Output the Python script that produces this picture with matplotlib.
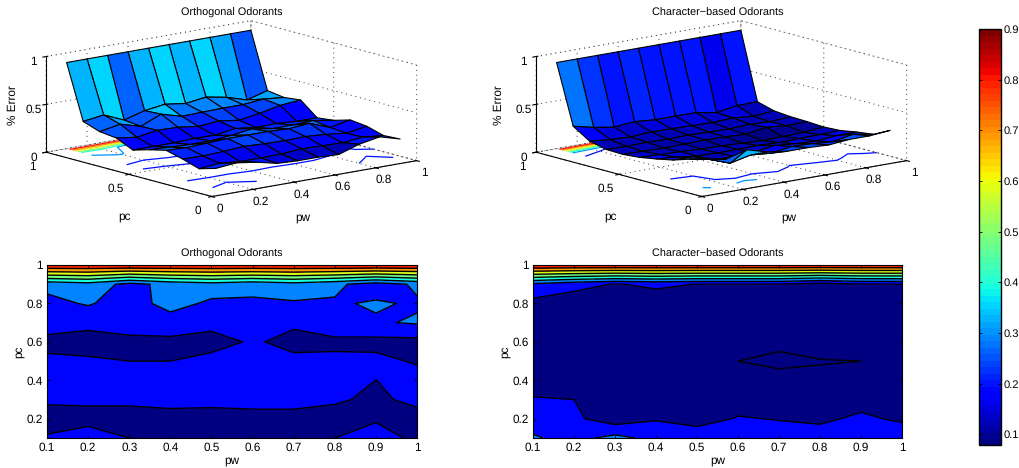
import numpy as np
import matplotlib
matplotlib.use("Agg")
import matplotlib.pyplot as plt
from matplotlib.cm import ScalarMappable
from matplotlib.colors import Normalize

plt.rcParams['font.family'] = ['Liberation Sans', 'DejaVu Sans']
plt.rcParams['font.size'] = 8.5
plt.rcParams['axes.linewidth'] = 0.8
plt.rcParams['text.hinting'] = 'no_hinting'

pw = [0.1, 0.2, 0.3, 0.4, 0.5, 0.6, 0.7, 0.8, 0.9, 1.0]
pc = [0.1, 0.2, 0.3, 0.4, 0.5, 0.6, 0.7, 0.8, 0.9, 1.0]

# rows are pc, columns are pw
orth_err = [
    [.21, .23, .20, .15, .14, .14, .13, .20, .24, .18],
    [.16, .18, .16, .16, .165, .18, .175, .17, .19, .17],
    [.215, .21, .22, .235, .225, .22, .225, .21, .185, .22],
    [.26, .25, .26, .27, .27, .27, .26, .28, .199, .24],
    [.22, .21, .20, .20, .22, .25, .215, .215, .225, .19],
    [.17, .17, .17, .18, .175, .208, .181, .185, .17, .17],
    [.25, .22, .255, .25, .22, .24, .21, .245, .29, .31],
    [.27, .31, .25, .34, .28, .285, .29, .29, .31, .29],
    [.33, .36, .27, .33, .36, .33, .36, .32, .255, .315],
    [.90, .90, .90, .90, .90, .90, .90, .90, .90, .90],
]
char_err = [
    [.31, .27, .33, .27, .24, .24, .23, .25, .25, .27],
    [.26, .22, .144, .192, .173, .205, .197, .18, .22, .183],
    [.205, .20, .13, .13, .14, .17, .15, .14, .16, .16],
    [.17, .15, .125, .12, .12, .125, .115, .12, .125, .13],
    [.14, .13, .125, .115, .11, .10, .09, .095, .10, .12],
    [.125, .12, .115, .12, .125, .12, .11, .145, .125, .13],
    [.13, .125, .13, .125, .13, .125, .12, .13, .12, .135],
    [.17, .15, .14, .155, .15, .145, .14, .15, .13, .15],
    [.28, .23, .195, .215, .198, .198, .197, .16, .195, .199],
    [.90, .90, .90, .90, .90, .90, .90, .90, .90, .90],
]
levels = [.1, .2, .3, .4, .5, .6, .7, .8]
cbar_ticks = [.1, .2, .3, .4, .5, .6, .7, .8, .9]
titles = ["Orthogonal Odorants", "Character\u2212based Odorants"]

W, H = 1019.0, 468.0
fig = plt.figure(figsize=(W / 100, H / 100), dpi=100)
cmap = plt.get_cmap("jet", 64)
norm = Normalize(0.079, 0.9)
X, Y = np.meshgrid(pw, pc)
sparse_dots = (0, (1, 4))


def box(x0, y0, x1, y1):
    return [x0 / W, 1 - y1 / H, (x1 - x0) / W, (y1 - y0) / H]


def surf_panel(err, cx, title, tx):
    # square axes, the 3D box is placed inside it by matplotlib
    size = 400
    cy = 114
    ax = fig.add_axes(box(cx - size / 2, cy - size / 2, cx + size / 2, cy + size / 2), projection="3d", proj_type="ortho")
    ax.patch.set_alpha(0)
    ax.computed_zorder = False
    ax.view_init(elev=12.5, azim=-129)
    ax.set_box_aspect((1, 1, 0.372), zoom=0.935)
    ax.set_xlim(0, 1, view_margin=0)
    ax.set_ylim(0, 1, view_margin=0)
    ax.set_zlim(0, 1, view_margin=0)
    Z = np.array(err)
    ax.contour(X, Y, Z, levels=levels, zdir="z", offset=0, cmap=cmap, norm=norm, linewidths=0.9, zorder=1)
    ax.plot_surface(X, Y, Z, rstride=1, cstride=1, facecolors=cmap(norm(Z)), shade=False,
                    edgecolor="k", linewidth=0.8, zorder=2)
    for axis in (ax.xaxis, ax.yaxis, ax.zaxis):
        axis.pane.set_facecolor((1, 1, 1, 0))
        axis.pane.set_edgecolor("#333333")
        axis.pane.set_linestyle(sparse_dots)
        axis.pane.set_linewidth(0.7)
        axis._axinfo["grid"].update(color="#333333", linestyle=sparse_dots, linewidth=0.7)
        axis.line.set_linewidth(0.8)
    ax.set_xticks([0, .2, .4, .6, .8, 1])
    ax.set_xticklabels(["0", "0.2", "0.4", "0.6", "0.8", "1"])
    ax.set_yticks([0, .5, 1])
    ax.set_yticklabels(["0", "0.5", "1"])
    ax.set_zticks([0, .5, 1])
    ax.set_zticklabels(["0", "0.5", "1"])
    ax.tick_params(axis="x", pad=-1)
    ax.tick_params(axis="y", pad=2)
    ax.tick_params(axis="z", pad=-3)
    fig.text(tx / W, 1 - 13 / H, title, ha="center", va="center", fontsize=7.8)
    fig.text((tx + 71) / W, 1 - 217 / H, "pw", ha="center", va="center")
    fig.text((tx - 108) / W, 1 - 216 / H, "pc", ha="center", va="center")
    fig.text((tx - 219) / W, 1 - 105 / H, "% Error", ha="center", va="center", rotation=90)
    return ax


def contour_panel(err, x0, x1, title):
    ax = fig.add_axes(box(x0, 265, x1, 438))
    Z = np.array(err)
    fill_levels = [.05] + levels + [1.0]
    fill_colors = [cmap(norm(.08))] + [cmap(norm(v - .012)) for v in levels]
    ax.contourf(X, Y, Z, levels=fill_levels, colors=fill_colors)
    ax.contour(X, Y, Z, levels=levels, colors="k", linewidths=1.0)
    ax.set_xlim(.1, 1)
    ax.set_ylim(.1, 1)
    ax.set_xticks(pw)
    ax.set_xticklabels(["0.1", "0.2", "0.3", "0.4", "0.5", "0.6", "0.7", "0.8", "0.9", "1"])
    ax.set_yticks([.2, .4, .6, .8, 1])
    ax.set_yticklabels(["0.2", "0.4", "0.6", "0.8", "1"])
    ax.tick_params(direction="in", top=True, right=True, length=2.5, width=0.6, pad=3)
    ax.set_xlabel("pw", labelpad=1)
    ax.set_ylabel("pc", labelpad=1.5)
    ax.set_title(title, fontsize=7.8, pad=6)
    return ax


surf_panel(orth_err, 226, titles[0], 232)
surf_panel(char_err, 716, titles[1], 718)
contour_panel(orth_err, 47, 417, titles[0])
contour_panel(char_err, 533, 902, titles[1])

cax = fig.add_axes(box(979, 29, 1001, 445))
cb = fig.colorbar(ScalarMappable(norm=norm, cmap=cmap), cax=cax, ticks=cbar_ticks)
cb.ax.set_yticklabels(["0.1", "0.2", "0.3", "0.4", "0.5", "0.6", "0.7", "0.8", "0.9"])
cb.ax.tick_params(direction="in", left=True, right=True, length=2.5, width=0.6, pad=1.5, labelsize=8)
cb.outline.set_linewidth(1.0)

fig.savefig("out.png", dpi=100)
